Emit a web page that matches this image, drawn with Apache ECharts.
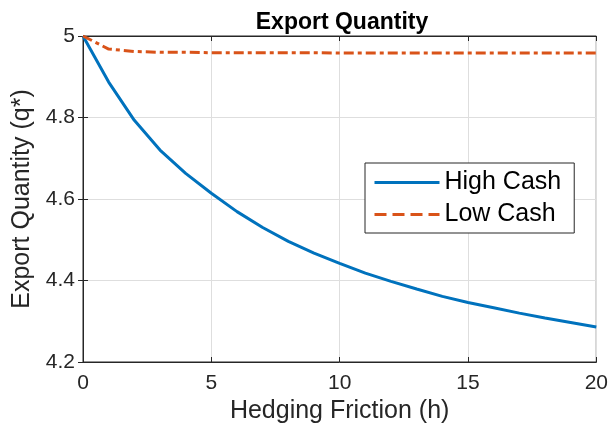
<!DOCTYPE html>
<html>
<head>
<meta charset="utf-8">
<script src="https://cdn.jsdelivr.net/npm/echarts@6/dist/echarts.min.js"></script>
<style>html,body{margin:0;padding:0;background:#fff}#c{width:611px;height:431px}</style>
</head>
<body>
<div id="c"></div>
<script>
const hedgingFriction = [0,1,2,3,4,5,6,7,8,9,10,11,12,13,14,15,16,17,18,19,20];
const highCash = [5.000,4.887,4.793,4.720,4.663,4.614,4.569,4.530,4.496,4.467,4.442,4.418,4.398,4.379,4.361,4.346,4.333,4.320,4.308,4.297,4.286];
const lowCash  = [5.000,4.968,4.962,4.960,4.960,4.959,4.959,4.959,4.959,4.959,4.958,4.958,4.958,4.958,4.958,4.958,4.958,4.958,4.958,4.958,4.958];
const xTicks = [0,5,10,15,20];
const yTicks = [4.2,4.4,4.6,4.8,5];
const seriesNames = ['High Cash','Low Cash'];

const FONT = 'Liberation Sans, Arial, Helvetica, sans-serif';
const AX = '#262626';
const chart = echarts.init(document.getElementById('c'), null, {renderer:'canvas'});
const pairs = (ys) => hedgingFriction.map((x,i)=>[x, ys[i]]);

chart.setOption({
  animation:false,
  backgroundColor:'#fff',
  title:{text:'Export Quantity', left:337, top:6, textAlign:'center',
    textStyle:{fontFamily:FONT, fontSize:23, fontWeight:'bold', color:'#000'}},
  grid:{left:83, right:13, top:36, bottom:69, show:true, borderColor:AX, borderWidth:1, backgroundColor:'#fff'},
  legend:{orient:'vertical', left:365, top:163, padding:[7,13,6,8], itemGap:7,
    itemWidth:65, itemHeight:14, borderColor:AX, borderWidth:1, backgroundColor:'#fff',
    itemStyle:{opacity:0},
    lineStyle:{width:3},
    textStyle:{fontFamily:FONT, fontSize:25, lineHeight:25, color:'#000'},
    data:[{name:seriesNames[0]}, {name:seriesNames[1], lineStyle:{width:3, type:[12,6]}}]},
  xAxis:[{type:'value', min:0, max:20, interval:5,
    name:'Hedging Friction (h)', nameLocation:'middle', nameGap:35,
    nameTextStyle:{fontFamily:FONT, fontSize:25, color:AX},
    axisLine:{show:true, lineStyle:{color:AX, width:1}},
    axisTick:{show:true, inside:true, length:5, lineStyle:{color:AX}},
    axisLabel:{fontFamily:FONT, fontSize:21, color:AX, margin:11},
    splitLine:{show:true, lineStyle:{color:'#dedede', width:1}}},
   {type:'value', position:'top', min:0, max:20, interval:5,
    axisLine:{show:true, lineStyle:{color:AX}}, axisTick:{show:true, inside:true, length:5, lineStyle:{color:AX}},
    axisLabel:{show:false}, splitLine:{show:false}}],
  yAxis:[{type:'value', min:4.2, max:5, interval:0.2,
    name:'Export Quantity (q*)', nameLocation:'middle', nameGap:47,
    nameTextStyle:{fontFamily:FONT, fontSize:25, color:AX},
    axisLine:{show:true, lineStyle:{color:AX, width:1}},
    axisTick:{show:true, inside:true, length:5, lineStyle:{color:AX}},
    axisLabel:{fontFamily:FONT, fontSize:21, color:AX, margin:8,
      formatter:(v)=> (Math.round(v*10)/10).toString()},
    splitLine:{show:true, lineStyle:{color:'#dedede', width:1}}},
   {type:'value', position:'right', min:4.2, max:5, interval:0.2,
    axisLine:{show:true, lineStyle:{color:AX}}, axisTick:{show:true, inside:true, length:5, lineStyle:{color:AX}},
    axisLabel:{show:false}, splitLine:{show:false}}],
  series:[
    {name:seriesNames[0], type:'line', data:pairs(highCash), showSymbol:false, symbol:'none',
     lineStyle:{color:'#0072BD', width:3}, itemStyle:{color:'#0072BD'}, z:3},
    {name:seriesNames[1], type:'line', data:pairs(lowCash), showSymbol:false, symbol:'none',
     lineStyle:{color:'#D95319', width:3, type:[10,4,4,4]}, itemStyle:{color:'#D95319'}, z:4}
  ]
});
</script>
</body>
</html>
